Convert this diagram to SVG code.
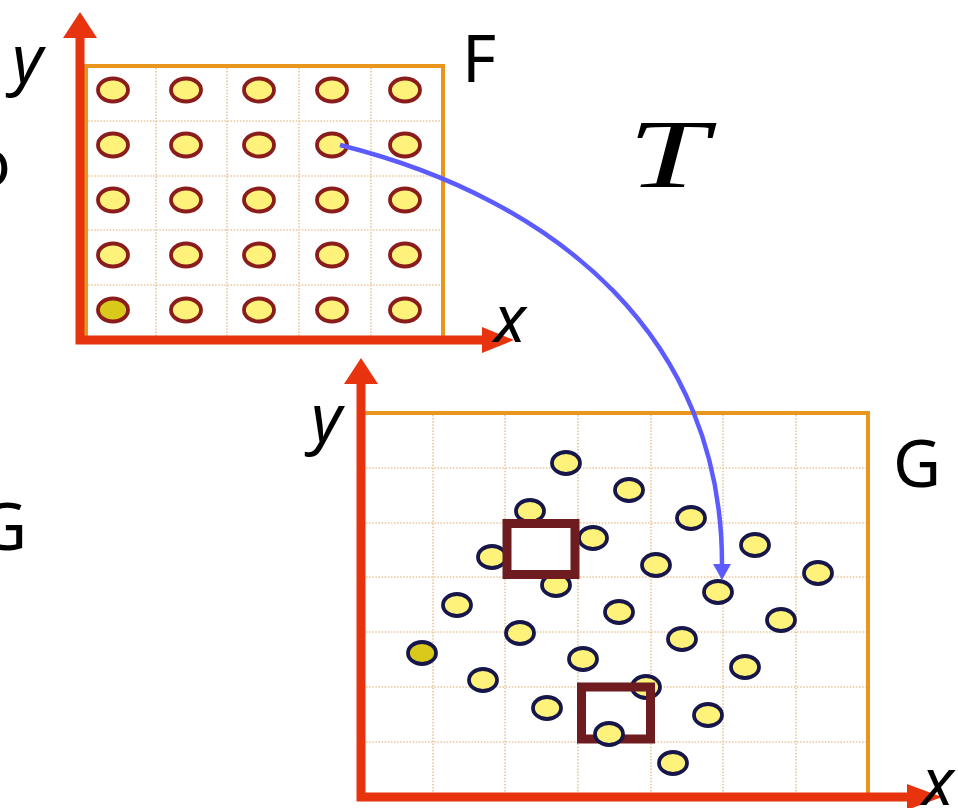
<svg xmlns="http://www.w3.org/2000/svg" width="958" height="808" viewBox="0 0 958 808">
  <defs>
    <style>
      .lbl { font-family: "Noto Sans", "Open Sans", "Liberation Sans", sans-serif; font-size: 66px; fill: #000; }
      .it { font-style: italic; }
      .math { font-family: "Liberation Serif", "DejaVu Serif", serif; font-style: italic; font-size: 98px; fill: #000; }
      .frame { fill: #fff; stroke: #E8961E; stroke-width: 4; }
      .grid { stroke: #E9C69A; stroke-width: 1.6; stroke-dasharray: 1.5 1.6; fill: none; }
      .axis { stroke: #E8330F; stroke-width: 9; fill: none; }
      .axhead { fill: #E8330F; }
      .ptF { fill: #FFF27A; stroke: #8B1C1C; stroke-width: 3.8; }
      .ptF0 { fill: #D9C91A; stroke: #8B1C1C; stroke-width: 3.8; }
      .ptG { fill: #FFF27A; stroke: #16164A; stroke-width: 3.8; }
      .ptG0 { fill: #D9C91A; stroke: #16164A; stroke-width: 3.8; }
      .win { fill: none; stroke: #6E1C20; stroke-width: 9; }
      .map { fill: none; stroke: #5B5BFF; stroke-width: 4.5; }
    </style>
    <marker id="bluehead" viewBox="0 0 16 18" refX="0" refY="9" markerWidth="16" markerHeight="18" markerUnits="userSpaceOnUse" orient="auto">
      <path d="M0,0 L16,9 L0,18 z" fill="#5B5BFF"/>
    </marker>
  </defs>
  <rect width="958" height="808" fill="#fff"/>

  <!-- Graph F (source grid) -->
  <g id="gridF">
    <rect class="frame" x="86" y="66" width="357" height="274"/>
    <path class="grid" d="M156,68 V336 M227,68 V336 M299,68 V336 M371,68 V336 M88,121 H441 M88,176 H441 M88,230 H441 M88,285 H441"/>
    <g id="pointsF">
      <ellipse class="ptF" cx="113" cy="90" rx="15" ry="11.5"/>
      <ellipse class="ptF" cx="186" cy="90" rx="15" ry="11.5"/>
      <ellipse class="ptF" cx="259" cy="90" rx="15" ry="11.5"/>
      <ellipse class="ptF" cx="332" cy="90" rx="15" ry="11.5"/>
      <ellipse class="ptF" cx="405" cy="90" rx="15" ry="11.5"/>
      <ellipse class="ptF" cx="113" cy="145" rx="15" ry="11.5"/>
      <ellipse class="ptF" cx="186" cy="145" rx="15" ry="11.5"/>
      <ellipse class="ptF" cx="259" cy="145" rx="15" ry="11.5"/>
      <ellipse class="ptF" cx="332" cy="145" rx="15" ry="11.5"/>
      <ellipse class="ptF" cx="405" cy="145" rx="15" ry="11.5"/>
      <ellipse class="ptF" cx="113" cy="200" rx="15" ry="11.5"/>
      <ellipse class="ptF" cx="186" cy="200" rx="15" ry="11.5"/>
      <ellipse class="ptF" cx="259" cy="200" rx="15" ry="11.5"/>
      <ellipse class="ptF" cx="332" cy="200" rx="15" ry="11.5"/>
      <ellipse class="ptF" cx="405" cy="200" rx="15" ry="11.5"/>
      <ellipse class="ptF" cx="113" cy="255" rx="15" ry="11.5"/>
      <ellipse class="ptF" cx="186" cy="255" rx="15" ry="11.5"/>
      <ellipse class="ptF" cx="259" cy="255" rx="15" ry="11.5"/>
      <ellipse class="ptF" cx="332" cy="255" rx="15" ry="11.5"/>
      <ellipse class="ptF" cx="405" cy="255" rx="15" ry="11.5"/>
      <ellipse class="ptF0" cx="113" cy="310" rx="15" ry="11.5"/>
      <ellipse class="ptF" cx="186" cy="310" rx="15" ry="11.5"/>
      <ellipse class="ptF" cx="259" cy="310" rx="15" ry="11.5"/>
      <ellipse class="ptF" cx="332" cy="310" rx="15" ry="11.5"/>
      <ellipse class="ptF" cx="405" cy="310" rx="15" ry="11.5"/>
    </g>
    <path class="axis" d="M80,35 V340 H484"/>
    <polygon class="axhead" points="80,12 97,38 63,38"/>
    <polygon class="axhead" points="514,340 482,327 482,353"/>
  </g>

  <!-- Graph G (target grid) -->
  <g id="gridG">
    <rect class="frame" x="361" y="413" width="507" height="384"/>
    <path class="grid" d="M433,415 V795 M505,415 V795 M578,415 V795 M651,415 V795 M723,415 V795 M796,415 V795 M363,468 H866 M363,523 H866 M363,577 H866 M363,632 H866 M363,687 H866 M363,742 H866"/>
    <g id="pointsG">
      <ellipse class="ptG" cx="566" cy="463" rx="14" ry="11"/>
      <ellipse class="ptG" cx="629" cy="490" rx="14" ry="11"/>
      <ellipse class="ptG" cx="530" cy="511" rx="14" ry="11"/>
      <ellipse class="ptG" cx="691" cy="518" rx="14" ry="11"/>
      <ellipse class="ptG" cx="492" cy="557" rx="14" ry="11"/>
      <ellipse class="ptG" cx="593" cy="538" rx="14" ry="11"/>
      <ellipse class="ptG" cx="755" cy="545" rx="14" ry="11"/>
      <ellipse class="ptG" cx="656" cy="565" rx="14" ry="11"/>
      <ellipse class="ptG" cx="556" cy="585" rx="14" ry="11"/>
      <ellipse class="ptG" cx="718" cy="592" rx="14" ry="11"/>
      <ellipse class="ptG" cx="818" cy="573" rx="14" ry="11"/>
      <ellipse class="ptG" cx="457" cy="605" rx="14" ry="11"/>
      <ellipse class="ptG" cx="619" cy="612" rx="14" ry="11"/>
      <ellipse class="ptG" cx="781" cy="620" rx="14" ry="11"/>
      <ellipse class="ptG" cx="520" cy="633" rx="14" ry="11"/>
      <ellipse class="ptG" cx="682" cy="639" rx="14" ry="11"/>
      <ellipse class="ptG0" cx="422" cy="653" rx="14" ry="11"/>
      <ellipse class="ptG" cx="583" cy="659" rx="14" ry="11"/>
      <ellipse class="ptG" cx="745" cy="667" rx="14" ry="11"/>
      <ellipse class="ptG" cx="483" cy="680" rx="14" ry="11"/>
      <ellipse class="ptG" cx="646" cy="687" rx="14" ry="11"/>
      <ellipse class="ptG" cx="547" cy="708" rx="14" ry="11"/>
      <ellipse class="ptG" cx="708" cy="715" rx="14" ry="11"/>
      <ellipse class="ptG" cx="673" cy="763" rx="14" ry="11"/>
    </g>
    <g id="windows">
      <rect class="win" x="507" y="523.5" width="68" height="51"/>
      <rect class="win" x="581.5" y="687" width="69" height="52"/>
    </g>
    <ellipse class="ptG" cx="609" cy="734" rx="14" ry="11"/>
    <path class="axis" d="M361,380 V797 H912"/>
    <polygon class="axhead" points="361,358 378,384 344,384"/>
    <polygon class="axhead" points="942,797 907,784 907,810"/>
  </g>

  <!-- Connectors -->
  <g id="connectors">
    <path class="map" d="M340,145 C560,200 722,340 722,564" marker-end="url(#bluehead)"/>
  </g>

  <!-- Labels -->
  <g id="labels">
    <text class="lbl it" x="12" y="82">y</text>
    <text class="lbl it" x="494" y="342">x</text>
    <text class="lbl" x="462" y="82">F</text>
    <text class="math" x="628" y="187" textLength="80" lengthAdjust="spacingAndGlyphs">T</text>
    <text class="lbl it" x="311" y="441">y</text>
    <text class="lbl it" x="922" y="805">x</text>
    <text class="lbl" x="893" y="487">G</text>
    <text class="lbl" x="-29" y="186">o</text>
    <text class="lbl" x="-21" y="550">G</text>
  </g>
</svg>
